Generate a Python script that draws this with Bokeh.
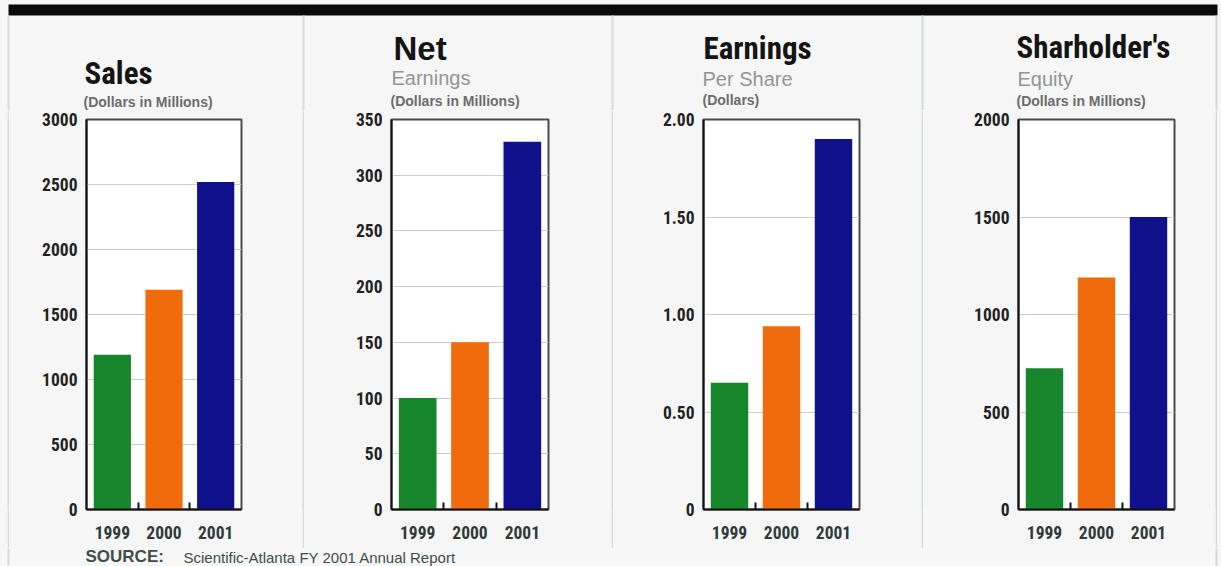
from bokeh.plotting import figure
from bokeh.models import Range1d, FixedTicker, Label, BoxAnnotation
from bokeh.layouts import row, column
from bokeh.embed import file_html
from bokeh.resources import INLINE

# ---------------- data ----------------
years = ["1999", "2000", "2001"]
bar_colors = ["#17852b", "#f06b0c", "#10128c"]

sales = [1190, 1690, 2520]
net_earnings = [100, 150, 330]
eps = [0.65, 0.94, 1.90]
equity = [725, 1190, 1500]

sales_ticks = [0, 500, 1000, 1500, 2000, 2500, 3000]
sales_tick_labels = ["0", "500", "1000", "1500", "2000", "2500", "3000"]
net_ticks = [0, 50, 100, 150, 200, 250, 300, 350]
net_tick_labels = ["0", "50", "100", "150", "200", "250", "300", "350"]
eps_ticks = [0, 0.5, 1.0, 1.5, 2.0]
eps_tick_labels = ["0", "0.50", "1.00", "1.50", "2.00"]
equity_ticks = [0, 500, 1000, 1500, 2000]
equity_tick_labels = ["0", "500", "1000", "1500", "2000"]

titles = ["Sales", "Net", "Earnings", "Sharholder's"]
subtitles = ["", "Earnings", "Per Share", "Equity"]
units = ["(Dollars in Millions)", "(Dollars in Millions)", "(Dollars)", "(Dollars in Millions)"]
source_head = "SOURCE:"
source_text = "Scientific-Atlanta FY 2001 Annual Report"

# ---------------- style ----------------
BG = "#f6f6f6"
NARROW = "'Roboto Condensed', Roboto, sans-serif"
SANS = "'Liberation Sans', Arial, sans-serif"
HEAD_H = 110
ROW_H = 438
FOOT_H = 18
MID = 0.345  # distance (in em) from a "middle" anchor down to the alphabetic baseline


def strip(width, height, boxes):
    """Plain drawing area whose data units are its own pixels (y downward)."""
    f = figure(width=width, height=height, toolbar_location=None, output_backend="svg",
               x_range=Range1d(0, width), y_range=Range1d(height, 0),
               x_axis_type=None, y_axis_type=None, min_border=0, margin=0)
    f.outline_line_color = None
    f.background_fill_color = BG
    f.border_fill_color = BG
    for (l, r, t, b, c) in boxes:
        f.add_layout(BoxAnnotation(left=l, right=r, top=t, bottom=b, fill_color=c,
                                   fill_alpha=1, line_color=None))
    return f


def solid(width, height, color):
    """A plain block of one colour (used for thin rules and margins in the chart row)."""
    f = figure(width=width, height=height, toolbar_location=None, output_backend="svg",
               x_axis_type=None, y_axis_type=None, min_border=0, margin=0)
    f.outline_line_color = None
    f.background_fill_color = color
    f.border_fill_color = color
    return f


def put_text(f, x, baseline, text, font, size, style, color):
    f.add_layout(Label(x=x, y=baseline - MID * size, text=text, text_font=font,
                       text_font_size=f"{size}px", text_font_style=style, text_color=color,
                       text_baseline="middle", text_align="left"))


def make_panel(values, ticks, tick_labels, geom):
    width, left, right, top, bottom = geom
    p = figure(width=width, height=ROW_H, toolbar_location=None, output_backend="svg",
               x_range=Range1d(-0.5, len(years) - 0.5), y_range=Range1d(0, ticks[-1]),
               min_border_left=left, min_border_right=right,
               min_border_top=top, min_border_bottom=bottom, margin=0)
    p.background_fill_color = "#ffffff"
    p.border_fill_color = BG
    p.outline_line_color = "#4a4a4a"
    p.outline_line_width = 2

    xs = list(range(len(years)))
    p.vbar(x=xs, top=values, width=0.72, fill_color=bar_colors, line_color=None)

    xa = p.xaxis[0]
    xa.ticker = FixedTicker(ticks=xs, minor_ticks=[i + 0.5 for i in xs[:-1]])
    xa.major_label_overrides = {i: y for i, y in zip(xs, years)}
    xa.major_tick_line_color = None
    xa.minor_tick_in = 7
    xa.minor_tick_out = 0
    xa.minor_tick_line_color = "#111111"
    xa.minor_tick_line_width = 2
    xa.axis_line_color = "#111111"
    xa.axis_line_width = 2
    xa.major_label_standoff = 10
    xa.major_label_text_font = NARROW
    xa.major_label_text_font_style = "bold"
    xa.major_label_text_font_size = "17.5px"
    xa.major_label_text_color = "#2f3b39"

    ya = p.yaxis[0]
    ya.ticker = FixedTicker(ticks=ticks, minor_ticks=[])
    ya.major_label_overrides = {t: l for t, l in zip(ticks, tick_labels)}
    ya.major_tick_line_color = None
    ya.major_tick_out = 0
    ya.minor_tick_line_color = None
    ya.axis_line_color = "#111111"
    ya.axis_line_width = 2
    ya.major_label_standoff = 9
    ya.major_label_text_font = NARROW
    ya.major_label_text_font_style = "bold"
    ya.major_label_text_font_size = "17.5px"
    ya.major_label_text_color = "#222222"

    p.xgrid.visible = False
    p.ygrid.grid_line_color = "#cdcdcd"
    p.ygrid.grid_line_width = 1
    return p


# ---------------- header (top rule, titles) ----------------
edge_c, div_c1, div_c2, div_c3, right_c = "#d3ddd6", "#d9d9d9", "#d3dcd8", "#cfdcd5", "#d6d6d6"
header = strip(1221, HEAD_H, [
    (8, 1217, 4, 15, "#0a0a0a"),
    (7, 9, 15, HEAD_H, edge_c),
    (302, 304, 15, HEAD_H, div_c1),
    (611, 613, 15, HEAD_H, div_c2),
    (921, 923, 15, HEAD_H, div_c3),
    (1215, 1217, 15, HEAD_H, right_c),
])

# (x, baseline) of title, subtitle, unit line for each panel
title_pos = [(84, 84), (393, 59), (703, 59), (1016, 58)]
sub_pos = [(0, 0), (391, 84), (702, 85), (1017, 85)]
unit_pos = [(83, 106), (390, 105), (702, 104), (1016, 105)]
title_fonts = [(NARROW, 31), (SANS, 33), (NARROW, 31), (NARROW, 31)]

for i in range(4):
    tx, tb = title_pos[i]
    tf, ts = title_fonts[i]
    put_text(header, tx, tb, titles[i], tf, ts, "bold", "#141414")
    if subtitles[i]:
        sx, sb = sub_pos[i]
        put_text(header, sx, sb, subtitles[i], SANS, 20, "normal", "#8e9794")
    ux, ub = unit_pos[i]
    put_text(header, ux, ub, units[i], SANS, 14, "bold", "#6c6c6c")

# ---------------- chart row ----------------
p1 = make_panel(sales, sales_ticks, sales_tick_labels, (293, 77, 61, 9, 39))
p2 = make_panel(net_earnings, net_ticks, net_tick_labels, (307, 87, 63, 9, 39))
p3 = make_panel(eps, eps_ticks, eps_tick_labels, (308, 90, 62, 9, 39))
p4 = make_panel(equity, equity_ticks, equity_tick_labels, (292, 95, 41, 9, 39))

chart_row = row(solid(7, ROW_H, BG), solid(2, ROW_H, edge_c),
                p1, solid(2, ROW_H, div_c1),
                p2, solid(2, ROW_H, div_c2),
                p3, solid(2, ROW_H, div_c3),
                p4, solid(2, ROW_H, right_c), solid(4, ROW_H, BG),
                spacing=0, styles={"background-color": BG})

# ---------------- footer ----------------
footer = strip(1221, FOOT_H, [(7, 9, 0, FOOT_H, edge_c), (1215, 1217, 0, FOOT_H, right_c)])
put_text(footer, 85, 14, source_head, SANS, 17, "bold", "#3f4d4a")
put_text(footer, 183, 14, source_text, SANS, 15, "normal", "#3f4d4a")

layout = column(header, chart_row, footer, spacing=0, styles={"background-color": BG})

html = file_html(layout, INLINE)
html = html.replace("<body>", f'<body style="margin:0;background-color:{BG}">', 1)
open("out.html", "w").write(html)
